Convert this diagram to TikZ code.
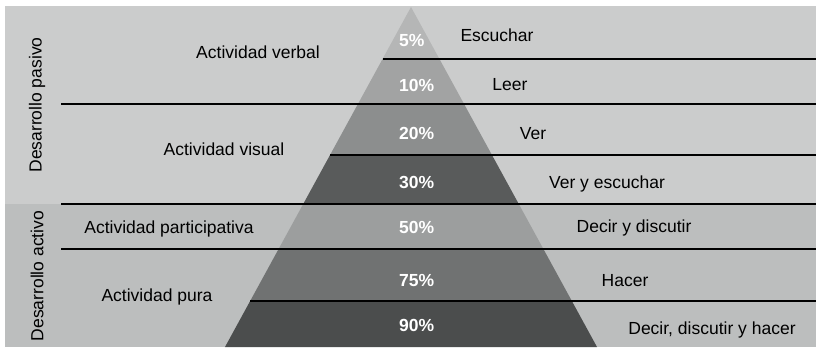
\documentclass[tikz,border=0pt]{standalone}
\usepackage{fontspec}
\setmainfont{Liberation Sans}
\usepackage{tikz}
\usetikzlibrary{positioning}
\tikzstyle{chart} = [x = 1pt, y = -1pt]
\definecolor{upperBack}{RGB}{203,204,204}
\definecolor{lowerBack}{RGB}{188,190,190}
\definecolor{bandFive}{RGB}{181,182,182}
\definecolor{bandTen}{RGB}{162,163,163}
\definecolor{bandTwenty}{RGB}{140,142,142}
\definecolor{bandThirty}{RGB}{89,91,91}
\definecolor{bandFifty}{RGB}{156,158,158}
\definecolor{bandSeventyFive}{RGB}{112,114,114}
\definecolor{bandNinety}{RGB}{75,77,77}
\tikzstyle{rowLine} = [color=black, line width=2pt]
\tikzstyle{rowText} = [font=\fontsize{17.5}{20}\selectfont, text=black, inner sep=0pt]
\tikzstyle{percentText} = [font=\fontsize{17.5}{20}\selectfont\bfseries, text=white, anchor=west, inner sep=0pt]
\tikzstyle{sideText} = [rowText, rotate=90]
\newcommand{\apexX}{411}
\newcommand{\apexY}{7}
\newcommand{\slope}{0.5471}
\newcommand{\rightEdge}{816}
\newcommand{\pyramidBand}[3]{\fill [#3] ({\apexX - \slope * (#1 - \apexY)}, #1) -- ({\apexX + \slope * (#1 - \apexY)}, #1) -- ({\apexX + \slope * (#2 - \apexY)}, #2) -- ({\apexX - \slope * (#2 - \apexY)}, #2) -- cycle;}
\newcommand{\pyramidLine}[1]{\draw [rowLine] ({\apexX - \slope * (#1 - \apexY)}, #1) -- (\rightEdge, #1);}
\newcommand{\groupLine}[1]{\draw [rowLine] (61, #1) -- (\rightEdge, #1);}

\begin{document}
\begin{tikzpicture}[chart]
      \useasboundingbox (0,0) rectangle (817,349);
      \fill [upperBack] (5,6) rectangle (\rightEdge,204);
      \fill [lowerBack] (5,204) rectangle (\rightEdge,347);

      \pyramidBand{7}{59}{bandFive}
      \pyramidBand{59}{104}{bandTen}
      \pyramidBand{104}{155}{bandTwenty}
      \pyramidBand{155}{204}{bandThirty}
      \pyramidBand{204}{249}{bandFifty}
      \pyramidBand{249}{301}{bandSeventyFive}
      \pyramidBand{301}{347}{bandNinety}

      \pyramidLine{59}
      \groupLine{104}
      \pyramidLine{155}
      \groupLine{204}
      \groupLine{249}
      \pyramidLine{301}

      \foreach \y/\p/\i in {40/5/1, 85/10/2, 133/20/3, 182/30/4, 227/50/5, 280/75/6, 325/90/7} {
        \node [percentText] (percent\i) at (399,\y) {\p\%};
      }

      \foreach \x/\y/\label/\name in {497/35/Escuchar/escuchar, 510/85/Leer/leer, 533/134/Ver/ver, 607/184/{Ver y escuchar}/verEscuchar, 634/228/{Decir y discutir}/decirDiscutir, 625/281/Hacer/hacer, 712/330/{Decir, discutir y hacer}/decirHacer} {
        \node [rowText] (\name) at (\x,\y) {\label};
      }

      \node [rowText] (actVerbal) at (258,52) {Actividad verbal};
      \node [rowText] (actVisual) at (224,149) {Actividad visual};
      \node [rowText] (actParticipativa) at (169,229) {Actividad participativa};
      \node [rowText] (actPura) at (157,297) {Actividad pura};

      \node [sideText] (sidePasivo) at (37,105) {Desarrollo pasivo};
      \node [sideText] (sideActivo) at (37,276) {Desarrollo activo};
    \end{tikzpicture}
\end{document}
